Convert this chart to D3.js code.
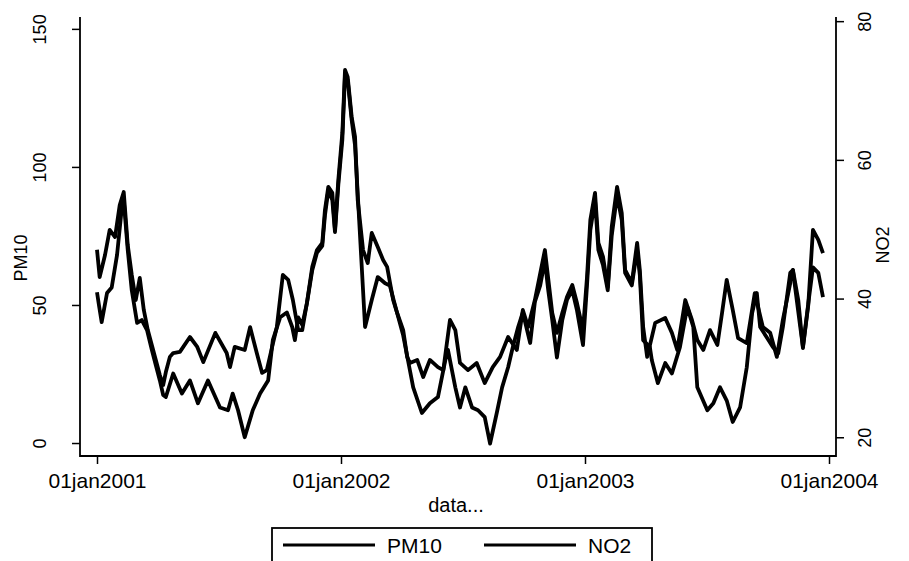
<!DOCTYPE html>
<html>
<head>
<meta charset="utf-8">
<script src="https://cdn.jsdelivr.net/npm/d3@7"></script>
<style>
  body { margin: 0; background: #fff; }
  text { font-family: "Liberation Sans", Arial, sans-serif; fill: #000; }
</style>
</head>
<body>
<svg id="chart" width="909" height="561"></svg>
<script>
// day offsets since 01jan2001 and values
const pm10Days = [0,4,12,19,27,34,40,46,52,58,64,70,76,82,88,94,99,103,109,114,124,139,150,159,177,194,199,206,221,229,239,247,254,262,269,278,286,293,301,307,314,322,329,337,341,346,352,356,361,367,371,375,381,386,390,398,405,411,420,428,434,443,449,458,464,468,479,488,498,510,518,528,536,543,555,568,580,592,603,615,628,637,645,655,670,681,688,696,703,711,718,727,733,738,745,750,757,764,770,778,785,790,800,808,812,817,823,835,850,860,868,880,890,898,907,917,928,935,942,951,959,972,984,996,1007,1017,1026,1041,1049,1056,1064,1071,1079,1086];
const pm10Values = [70,60.1,68.1,77.2,74.6,86.2,90.9,71.7,60.9,51.8,59.8,48.2,40.9,35.5,30.1,24.6,21,25.7,31.2,32.6,33,38.4,34.8,29.3,39.9,32.6,27.5,34.8,33.7,42,32.6,25.4,26.4,34.8,42,60.9,59.1,51.8,40.9,40.9,50.7,63.8,69.9,72.5,84.4,92.8,90.6,77.2,95.3,112.3,135.1,132.6,118.1,110.9,88,69.9,65.2,76.1,71,66.3,63.8,51.8,47.1,40.9,31.2,29,30.1,23.9,30.1,27.5,26.4,44.6,40.9,29,26.4,29,21.7,27.5,31.2,38.4,33.7,48.2,42,51.8,69.9,47.1,39.9,47.1,52.9,57.2,50.7,40.9,60.1,80.8,90.6,72.5,67.4,56.5,78.3,92.8,83.3,62.7,58,72.5,62.7,42,31.2,43.5,45.3,39.9,33.7,51.8,44.6,37.3,33.7,40.9,35.5,47.1,59.1,48.2,38,36.2,54.3,42,39.9,31.2,44.6,62.7,51.8,34.4,50,77.2,73.6,68.8];
const no2Days = [0,3,7,15,22,30,36,40,46,52,60,67,75,82,88,94,99,103,114,127,139,151,166,184,196,203,211,221,233,244,256,263,274,284,292,296,301,307,314,322,329,337,341,346,352,356,361,367,371,375,381,386,393,401,411,420,431,438,449,458,468,473,486,498,510,521,525,536,543,551,561,570,580,588,598,606,615,622,630,637,648,655,663,670,675,681,688,696,703,711,718,727,733,738,745,750,757,764,770,778,785,790,800,808,812,817,827,830,839,850,860,872,883,892,898,913,922,932,942,951,962,972,980,987,992,1002,1011,1019,1026,1037,1041,1052,1056,1064,1071,1079,1086];
const no2Values = [40.9,39,36.6,40.8,41.6,46.3,52,54.2,47,41.2,36.5,36.9,35.4,32.6,30.4,28.2,26.1,25.8,29.2,26.3,28.2,24.9,28.2,24.3,23.9,26.3,23.9,20,23.9,26.3,28.2,34,37.3,38,35.9,34,37.3,36.2,39.3,44.1,46.6,47.6,52,55.6,54.2,49.6,56.4,62.9,72.2,71.5,65.7,62.1,49.9,35.9,39.8,43.1,42.2,41.9,37.9,34.7,29.7,27.2,23.5,24.9,25.8,31.1,32.6,27.2,24.3,27.2,24.3,23.9,22.9,19.1,23.5,27.2,30.1,33,35.9,38,33.6,39.5,41.9,45.5,41.2,36.9,31.5,36.9,39.8,41.2,38.3,33.3,41.9,49.9,54.2,47,44.8,41.2,49.1,54.9,51.3,43.7,41.9,47,43.4,34,33,31.1,27.8,30.7,29.2,33,38.8,35.9,27.2,23.9,24.9,27.2,25.3,22.2,24.3,30.1,37.9,40.8,35.9,34.4,33,32.1,35.9,43.7,44.1,35.9,33,39.3,44.5,43.7,40.2];

const xTickDates = ["2001-01-01", "2002-01-01", "2003-01-01", "2004-01-01"];
const xTickLabels = ["01jan2001", "01jan2002", "01jan2003", "01jan2004"];
const pm10Ticks = [0, 50, 100, 150];
const no2Ticks = [20, 40, 60, 80];
const seriesNames = ["PM10", "NO2"];

const start = new Date(2001, 0, 1);
const parseDay = d3.timeParse("%Y-%m-%d");
const toPoints = (days, vals) => days.map((d, i) => ({ date: d3.timeDay.offset(start, d), value: vals[i] }));
const pm10 = toPoints(pm10Days, pm10Values);
const no2 = toPoints(no2Days, no2Values);

const plotLeft = 80, plotRight = 836, plotTop = 17, plotBottom = 456;

const svg = d3.select("#chart");
svg.append("rect").attr("width", 909).attr("height", 561).attr("fill", "#fff");

const x = d3.scaleTime()
  .domain([parseDay(xTickDates[0]), parseDay(xTickDates[3])])
  .range([97, 829]);
const yL = d3.scaleLinear().domain([-4.7, 154.3]).range([plotBottom, plotTop]);
const yR = d3.scaleLinear().domain([17.3, 80.6]).range([plotBottom, plotTop]);

// axes
const xAxis = svg.append("g")
  .attr("transform", `translate(0,${plotBottom})`)
  .call(d3.axisBottom(x).tickValues(xTickDates.map(parseDay))
    .tickFormat((d, i) => xTickLabels[i]).tickSize(8).tickPadding(9));
xAxis.select(".domain").remove();
xAxis.selectAll("text").style("font-size", "21px");

const yAxisL = svg.append("g")
  .attr("transform", `translate(${plotLeft},0)`)
  .call(d3.axisLeft(yL).tickValues(pm10Ticks).tickSize(8).tickPadding(0));
yAxisL.select(".domain").remove();
yAxisL.selectAll("text")
  .attr("transform", "rotate(-90)")
  .attr("x", 0).attr("dx", 0).attr("y", -40).attr("dy", "0.35em")
  .style("text-anchor", "middle").style("font-size", "18px");

const yAxisR = svg.append("g")
  .attr("transform", `translate(${plotRight},0)`)
  .call(d3.axisRight(yR).tickValues(no2Ticks).tickSize(8).tickPadding(0));
yAxisR.select(".domain").remove();
yAxisR.selectAll("text")
  .attr("transform", "rotate(-90)")
  .attr("x", 0).attr("dx", 0).attr("y", 29).attr("dy", "0.35em")
  .style("text-anchor", "middle").style("font-size", "18px");

svg.selectAll(".tick line").attr("stroke", "#000").attr("stroke-width", 1.5);

// frame lines (no top border)
svg.append("path")
  .attr("d", `M${plotLeft},${plotTop}V${plotBottom}H${plotRight}V${plotTop}`)
  .attr("fill", "none").attr("stroke", "#000").attr("stroke-width", 1.8);

// axis titles
svg.append("text").attr("transform", "translate(27,258) rotate(-90)")
  .attr("text-anchor", "middle").style("font-size", "18px").text(seriesNames[0]);
svg.append("text").attr("transform", "translate(889,245) rotate(-90)")
  .attr("text-anchor", "middle").style("font-size", "18px").text(seriesNames[1]);
svg.append("text").attr("x", 456).attr("y", 512)
  .attr("text-anchor", "middle").style("font-size", "20px").text("data...");

// series
const linePm = d3.line().x(d => x(d.date)).y(d => yL(d.value));
const lineNo = d3.line().x(d => x(d.date)).y(d => yR(d.value));
svg.append("path").datum(no2).attr("d", lineNo)
  .attr("fill", "none").attr("stroke", "#000").attr("stroke-width", 3.8).attr("stroke-linejoin", "round");
svg.append("path").datum(pm10).attr("d", linePm)
  .attr("fill", "none").attr("stroke", "#000").attr("stroke-width", 3.8).attr("stroke-linejoin", "round");

// legend
const lg = svg.append("g").attr("transform", "translate(272,528)");
lg.append("rect").attr("width", 380).attr("height", 45)
  .attr("fill", "#fff").attr("stroke", "#000").attr("stroke-width", 1.8);
seriesNames.forEach((name, i) => {
  const ox = 11 + i * 201;
  lg.append("line").attr("x1", ox).attr("x2", ox + 92).attr("y1", 17).attr("y2", 17)
    .attr("stroke", "#000").attr("stroke-width", 3);
  lg.append("text").attr("x", ox + 104).attr("y", 25).style("font-size", "21px").text(name);
});
</script>
</body>
</html>
